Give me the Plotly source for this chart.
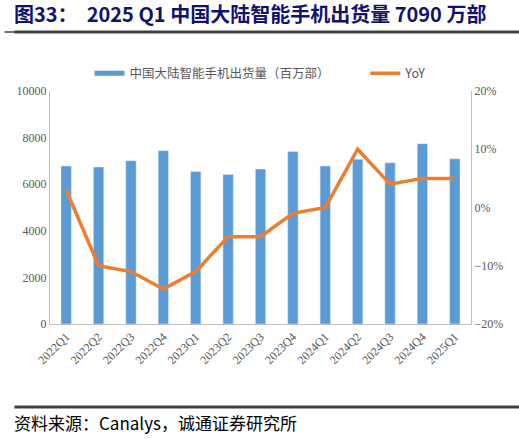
import plotly.graph_objects as go

# data
quarters = ['2022Q1', '2022Q2', '2022Q3', '2022Q4', '2023Q1', '2023Q2', '2023Q3',
            '2023Q4', '2024Q1', '2024Q2', '2024Q3', '2024Q4', '2025Q1']
shipments = [6780, 6740, 7010, 7440, 6540, 6420, 6650, 7400, 6780, 7070, 6920, 7740, 7090]
yoy = [3, -10, -11, -14, -11, -5, -5, -1, 0, 10, 4, 5, 5]

BLUE = '#5B9BD5'
ORANGE = '#ED7D31'
GRAY = '#595959'
AXIS = '#BFBFBF'
bar_name = '中国大陆智能手机出货量（百万部）'

fig = go.Figure()

fig.add_trace(go.Bar(
    x=quarters, y=shipments, name=bar_name, showlegend=False,
    marker=dict(color=BLUE), yaxis='y'
))
# legend entry only: a flat wide swatch like the reference
fig.add_trace(go.Scatter(
    x=[None], y=[None], name=bar_name + '           ', mode='lines',
    line=dict(color=BLUE, width=5), yaxis='y'
))
fig.add_trace(go.Scatter(
    x=quarters, y=yoy, name='YoY', mode='lines',
    line=dict(color=ORANGE, width=3.5), yaxis='y2'
))

tick_font = dict(family='Liberation Serif, Times New Roman, serif', size=12, color=GRAY)

fig.update_layout(
    width=519, height=439,
    paper_bgcolor='white', plot_bgcolor='white',
    margin=dict(l=50, r=48, t=91, b=115, autoexpand=False),
    bargap=0.68,
    showlegend=True,
    legend=dict(
        orientation='h', x=0.5, xanchor='center', y=1.075, yanchor='middle',
        font=dict(family='Noto Sans CJK SC, Liberation Serif', size=12.5, color=GRAY),
        itemwidth=30, traceorder='normal', bgcolor='rgba(0,0,0,0)'
    ),
    xaxis=dict(
        type='category', tickangle=-45, tickfont=tick_font,
        showline=True, linecolor=AXIS, linewidth=1, ticks='', showgrid=False
    ),
    yaxis=dict(
        range=[0, 10000], dtick=2000, tickformat='d', tickfont=tick_font,
        showline=True, linecolor=AXIS, linewidth=1, showgrid=False,
        zeroline=False, ticks=''
    ),
    yaxis2=dict(
        range=[-20, 20], dtick=10, ticksuffix='%', tickfont=tick_font,
        overlaying='y', side='right', showline=True, linecolor=AXIS, linewidth=1,
        showgrid=False, zeroline=False, ticks=''
    ),
)

# title and source note
fig.add_annotation(
    text='图33：  2025 Q1 中国大陆智能手机出货量 7090 万部',
    xref='paper', yref='paper', x=-0.09, y=1.0, xanchor='left', yanchor='bottom',
    yshift=61, showarrow=False,
    font=dict(family='Noto Sans CJK SC, Liberation Sans', size=20, color='#12126E', weight='bold')
)
fig.add_annotation(
    text='资料来源：Canalys，诚通证券研究所',
    xref='paper', yref='paper', x=-0.09, y=0, xanchor='left', yanchor='middle',
    yshift=-98, showarrow=False,
    font=dict(family='Noto Sans CJK SC, Liberation Sans', size=17, color='#000000')
)

# horizontal rules under the title and above the source (plot area is 233 px tall)
for r in [1.253, -0.356]:
    fig.add_annotation(
        text=' ', xref='paper', yref='paper', x=-0.085, y=r, xanchor='left', yanchor='middle',
        showarrow=False, width=507, height=1.5, bgcolor='#404040', borderpad=0,
        font=dict(size=1)
    )
# top rule drawn again as an arrow line, from the left edge of the rule to its right end
fig.add_annotation(
    text='', xref='paper', yref='paper', x=1.093, y=1.253,
    axref='pixel', ayref='pixel', ax=-507, ay=0,
    showarrow=True, arrowhead=0, arrowwidth=1.5, arrowcolor='#404040',
    standoff=0, startstandoff=0
)

fig.write_html('out.html', config={'displayModeBar': False},
               post_script="document.body.style.margin='0';")
